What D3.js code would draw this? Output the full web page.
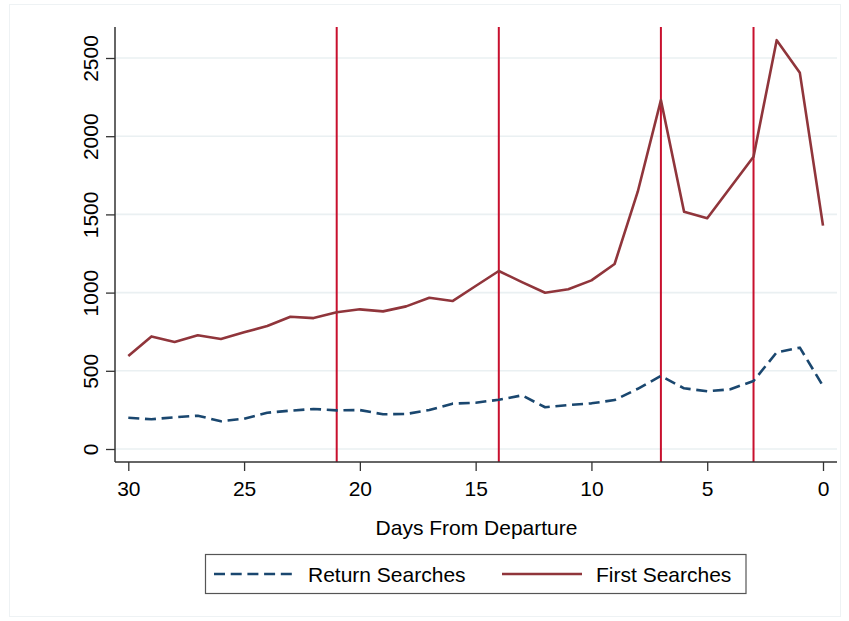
<!DOCTYPE html>
<html>
<head>
<meta charset="utf-8">
<script src="https://cdn.jsdelivr.net/npm/d3@7"></script>
<style>
  html, body { margin: 0; padding: 0; background: #ffffff; }
  svg { display: block; }
  text { font-family: "Liberation Sans", Arial, sans-serif; fill: #000; }
</style>
</head>
<body>
<svg id="chart" width="849" height="621"></svg>
<script>
// Days before departure (x axis runs from 30 down to 0)
const days = [30, 29, 28, 27, 26, 25, 24, 23, 22, 21, 20, 19, 18, 17, 16, 15,
              14, 13, 12, 11, 10, 9, 8, 7, 6, 5, 4, 3, 2, 1, 0];

// Number of first searches per day
const firstSearches = [594, 720, 684, 727, 703, 746, 786, 846, 837, 874, 893, 880,
                       912, 967, 946, 1042, 1138, 1067, 999, 1021, 1078, 1183,
                       1645, 2231, 1517, 1475, 1672, 1869, 2614, 2405, 1428];

// Number of return searches per day
const returnSearches = [200, 190, 203, 213, 177, 194, 232, 245, 256, 247, 249, 222,
                        224, 249, 290, 296, 315, 343, 267, 281, 292, 313,
                        385, 467, 388, 369, 382, 435, 618, 648, 403];

// Reference days marked with vertical lines
const markerDays = [21, 14, 7, 3];

// Axis ticks
const xTicks = [30, 25, 20, 15, 10, 5, 0];
const yTicks = [0, 500, 1000, 1500, 2000, 2500];

const legendLabels = ["Return Searches", "First Searches"];

const svg = d3.select("#chart");

// Plot region
const plot = { left: 115, right: 837, top: 27, bottom: 462 };

const x = d3.scaleLinear().domain([30, 0]).range([128.3, 823.0]);
const y = d3.scaleLinear().domain([0, 2500]).range([449, 58]);

// Faint outer frame of the graph region
svg.append("rect")
  .attr("x", 9.5).attr("y", 4.5)
  .attr("width", 831).attr("height", 612)
  .attr("fill", "none")
  .attr("stroke", "#eef2f4")
  .attr("stroke-width", 1);

// Horizontal grid lines
svg.append("g")
  .selectAll("line")
  .data(yTicks)
  .join("line")
  .attr("x1", plot.left).attr("x2", plot.right)
  .attr("y1", d => y(d)).attr("y2", d => y(d))
  .attr("stroke", "#eaf0f2")
  .attr("stroke-width", 1.6);

// Vertical reference lines
svg.append("g")
  .selectAll("line")
  .data(markerDays)
  .join("line")
  .attr("x1", d => x(d)).attr("x2", d => x(d))
  .attr("y1", plot.top).attr("y2", plot.bottom)
  .attr("stroke", "#c8102e")
  .attr("stroke-width", 2);

// Series lines
const line = vals => d3.line()
  .x((d, i) => x(days[i]))
  .y(d => y(d))(vals);

svg.append("path")
  .attr("d", line(returnSearches))
  .attr("fill", "none")
  .attr("stroke", "#1a476f")
  .attr("stroke-width", 2.6)
  .attr("stroke-dasharray", "11,5.7")
  .attr("stroke-linejoin", "round");

svg.append("path")
  .attr("d", line(firstSearches))
  .attr("fill", "none")
  .attr("stroke", "#90353b")
  .attr("stroke-width", 2.6)
  .attr("stroke-linejoin", "round");

// X axis
const xAxis = svg.append("g")
  .attr("transform", `translate(0,${plot.bottom})`)
  .call(d3.axisBottom(x).tickValues(xTicks).tickFormat(d3.format("d"))
    .tickSize(9).tickSizeOuter(0));
xAxis.select(".domain").remove();
xAxis.append("line")
  .attr("x1", plot.left).attr("x2", plot.right)
  .attr("stroke", "#333").attr("stroke-width", 1.5);
xAxis.selectAll(".tick line").attr("stroke", "#333").attr("stroke-width", 1.3);
xAxis.selectAll(".tick text")
  .attr("font-size", 21)
  .attr("font-family", "Liberation Sans, Arial, sans-serif")
  .attr("fill", "#000")
  .attr("y", 34).attr("dy", 0);

// Y axis with rotated labels
const yAxis = svg.append("g")
  .attr("transform", `translate(${plot.left},0)`)
  .call(d3.axisLeft(y).tickValues(yTicks).tickFormat(d3.format("d"))
    .tickSize(9).tickSizeOuter(0));
yAxis.select(".domain").remove();
yAxis.append("line")
  .attr("y1", plot.top).attr("y2", plot.bottom)
  .attr("stroke", "#333").attr("stroke-width", 1.5);
yAxis.selectAll(".tick line").attr("stroke", "#333").attr("stroke-width", 1.3);
yAxis.selectAll(".tick text")
  .attr("font-size", 21)
  .attr("font-family", "Liberation Sans, Arial, sans-serif")
  .attr("fill", "#000")
  .attr("text-anchor", "middle")
  .attr("transform", "rotate(-90)")
  .attr("x", 0).attr("y", -17).attr("dy", 0);

// X axis title
svg.append("text")
  .attr("x", (plot.left + plot.right) / 2 + 0.5)
  .attr("y", 535)
  .attr("text-anchor", "middle")
  .attr("font-size", 21)
  .text("Days From Departure");

// Legend
const legend = svg.append("g");
legend.append("rect")
  .attr("x", 205.5).attr("y", 554.5)
  .attr("width", 540.5).attr("height", 39)
  .attr("fill", "#fff")
  .attr("stroke", "#555")
  .attr("stroke-width", 1.2);

legend.append("line")
  .attr("x1", 214).attr("x2", 295).attr("y1", 574).attr("y2", 574)
  .attr("stroke", "#1a476f").attr("stroke-width", 2.6)
  .attr("stroke-dasharray", "11,5.7");
legend.append("text")
  .attr("x", 308).attr("y", 581.5)
  .attr("font-size", 21)
  .text(legendLabels[0]);

legend.append("line")
  .attr("x1", 502).attr("x2", 582).attr("y1", 574).attr("y2", 574)
  .attr("stroke", "#90353b").attr("stroke-width", 2.6);
legend.append("text")
  .attr("x", 596).attr("y", 581.5)
  .attr("font-size", 21)
  .text(legendLabels[1]);
</script>
</body>
</html>
